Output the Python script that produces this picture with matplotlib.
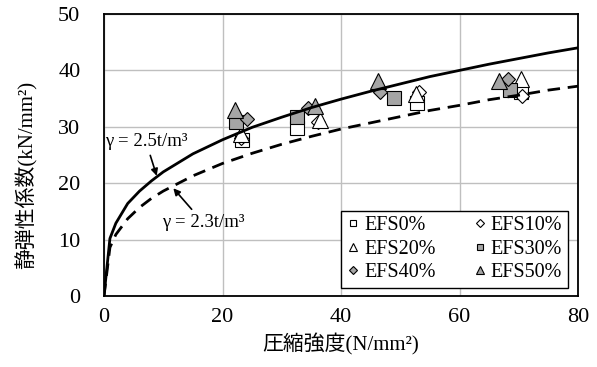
import matplotlib
matplotlib.use("Agg")
import matplotlib.pyplot as plt

plt.rcParams['font.family'] = ['Liberation Serif', 'Noto Sans CJK JP']

# design curves (compressive strength vs. elastic modulus)
curve_x = [0, 1, 2, 4, 6, 8, 10, 15, 20, 25, 30, 35, 40, 45, 50, 55, 60, 65, 70, 75, 80]
curve_25 = [0, 10.2, 12.9, 16.4, 18.6, 20.4, 22.0, 25.2, 27.7, 29.9, 31.7, 33.4, 34.9,
            36.3, 37.6, 38.9, 40.0, 41.1, 42.1, 43.1, 44.0]
curve_23 = [0, 8.6, 10.9, 13.7, 15.7, 17.3, 18.6, 21.3, 23.5, 25.3, 26.9, 28.3, 29.6,
            30.7, 31.8, 32.9, 33.8, 34.8, 35.6, 36.5, 37.2]

# measured values
efs0_x = [23.3, 32.5, 52.8, 70.4]
efs0_y = [27.7, 29.8, 34.2, 36.2]
efs10_x = [23.1, 36.2, 53.1, 70.6]
efs10_y = [28.0, 30.8, 36.2, 35.5]
efs20_x = [23.2, 36.5, 52.6, 70.3]
efs20_y = [28.8, 31.2, 35.9, 38.4]
efs30_x = [22.3, 32.5, 48.9, 68.6]
efs30_y = [30.8, 31.7, 35.1, 36.5]
efs40_x = [24.1, 34.4, 46.6, 68.1]
efs40_y = [31.4, 33.4, 36.2, 38.5]
efs50_x = [22.1, 35.6, 46.2, 66.7]
efs50_y = [33.0, 33.7, 38.2, 38.1]

gray = '#a5a5a5'
series = [
    ("EFS0%", efs0_x, efs0_y, 's', 'white', 10),
    ("EFS10%", efs10_x, efs10_y, 'D', 'white', 7.5),
    ("EFS20%", efs20_x, efs20_y, '^', 'white', 11),
    ("EFS30%", efs30_x, efs30_y, 's', gray, 10),
    ("EFS40%", efs40_x, efs40_y, 'D', gray, 7.5),
    ("EFS50%", efs50_x, efs50_y, '^', gray, 11),
]

fig = plt.figure(figsize=(5.97, 3.67), dpi=100)
ax = fig.add_axes([0.1742, 0.1935, 0.794, 0.7684])

handles = []
for label, xs, ys, mk, fc, ms in series:
    h, = ax.plot(xs, ys, linestyle='none', marker=mk, markersize=ms, markerfacecolor=fc,
                 markeredgecolor='black', markeredgewidth=0.8, label=label, zorder=3)
    handles.append(h)

ax.plot(curve_x, curve_25, color='black', lw=2.0, zorder=4)
ax.plot(curve_x, curve_23, color='black', lw=2.0, dashes=(4.5, 2.8), zorder=4)

ax.annotate("γ = 2.5t/m³", xy=(8.9, 21.3), xytext=(0.1, 27.4),
            fontsize=13.5, ha='left', va='center',
            arrowprops=dict(arrowstyle='-|>', color='black', lw=1.2, mutation_scale=10,
                            shrinkA=2, shrinkB=0))
ax.annotate("γ = 2.3t/m³", xy=(11.7, 19.1), xytext=(9.8, 13.0),
            fontsize=13.5, ha='left', va='center',
            arrowprops=dict(arrowstyle='-|>', color='black', lw=1.2, mutation_scale=10,
                            shrinkA=2, shrinkB=0))

ax.set_xlim(0, 80)
ax.set_ylim(0, 50)
ax.set_xticks([0, 20, 40, 60, 80])
ax.set_yticks([0, 10, 20, 30, 40, 50])
ax.grid(True, color='#bfbfbf', lw=1.0)
ax.set_axisbelow(True)
ax.tick_params(length=0, labelsize=16)
ax.tick_params(axis='x', pad=9)
ax.tick_params(axis='y', pad=17)
for sp in ax.spines.values():
    sp.set_linewidth(1.3)
    sp.set_color('black')

ax.set_xlabel("圧縮強度(N/mm²)", fontsize=15, labelpad=4)
ax.set_ylabel("静弾性係数(kN/mm²)", fontsize=15)
ax.yaxis.set_label_coords(-0.14, 0.43)

# legend filled row by row: 0,10 / 20,30 / 40,50
order = [0, 2, 4, 1, 3, 5]
leg = ax.legend([handles[i] for i in order], [series[i][0] for i in order],
                ncol=2, loc='lower right', bbox_to_anchor=(0.979, 0.028),
                borderaxespad=0, fontsize=14.5, markerscale=0.5, handlelength=0.6,
                handletextpad=0.25, columnspacing=1.9, labelspacing=0.22, borderpad=0.28,
                fancybox=False, framealpha=1, edgecolor='black')
leg.get_frame().set_linewidth(1.0)

fig.savefig("out.png", dpi=100)
